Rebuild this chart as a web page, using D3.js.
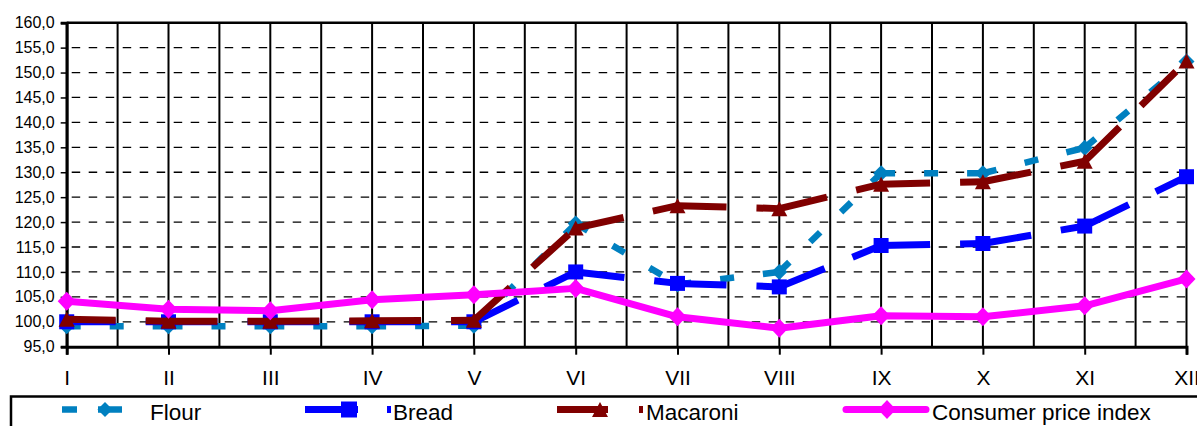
<!DOCTYPE html>
<html>
<head>
<meta charset="utf-8">
<script src="https://cdn.jsdelivr.net/npm/d3@7"></script>
<style>
  html, body { margin: 0; padding: 0; background: #fff; }
  svg { display: block; font-family: "Liberation Sans", Arial, sans-serif; }
</style>
</head>
<body>
<svg id="chart" width="1197" height="426"></svg>
<script>
const categories = ["I","II","III","IV","V","VI","VII","VIII","IX","X","XI","XII"];
const flour    = [99.1, 99.1, 99.1, 99.1, 99.2, 119.7, 107.5, 110.0, 129.8, 129.8, 134.9, 152.2];
const bread    = [100.0, 100.0, 100.0, 100.0, 100.0, 110.0, 107.7, 107.0, 115.3, 115.7, 119.2, 129.1];
const macaroni = [100.5, 100.1, 100.1, 100.2, 100.3, 118.8, 123.3, 122.7, 127.6, 128.1, 132.2, 152.3];
const cpi      = [104.1, 102.5, 102.2, 104.4, 105.4, 106.7, 101.0, 98.7, 101.2, 101.0, 103.2, 108.6];
const yTicks   = [95, 100, 105, 110, 115, 120, 125, 130, 135, 140, 145, 150, 155, 160];
const seriesNames = ["Flour", "Bread", "Macaroni", "Consumer price index"];

const svg = d3.select("#chart");
const X0 = 66.7, X1 = 1186.5, YT = 22.7, YB = 346.7;
const x = d3.scalePoint().domain(categories).range([X0, X1]);
const y = d3.scaleLinear().domain([95, 160]).range([YB, YT]);
const step = x.step();

// horizontal dashed gridlines
const g = svg.append("g");
g.selectAll("line.hg").data(yTicks.filter(v => v > 95 && v < 160)).join("line")
  .attr("x1", X0).attr("x2", X1)
  .attr("y1", d => y(d)).attr("y2", d => y(d))
  .attr("stroke", "#000").attr("stroke-width", 1.3)
  .attr("stroke-dasharray", "8.5,8.5").attr("stroke-dashoffset", -5);

// vertical gridlines at categories and midpoints
const vx = [];
categories.forEach((c, i) => {
  vx.push(x(c));
  if (i < categories.length - 1) vx.push(x(c) + step / 2);
});
g.selectAll("line.vg").data(vx).join("line")
  .attr("x1", d => d).attr("x2", d => d)
  .attr("y1", YT).attr("y2", YB)
  .attr("stroke", "#000").attr("stroke-width", 2);

// top border
g.append("line").attr("x1", X0).attr("x2", X1).attr("y1", YT).attr("y2", YT)
  .attr("stroke", "#000").attr("stroke-width", 2.5);

// y axis
const yAxis = d3.axisLeft(y).tickValues(yTicks).tickSize(6).tickPadding(6)
  .tickFormat(d => d3.format(".1f")(d).replace(".", ","));
const ya = svg.append("g").attr("transform", `translate(${X0},0)`).call(yAxis);
ya.select(".domain").attr("stroke", "#000").attr("stroke-width", 3);
ya.selectAll(".tick line").attr("stroke", "#000").attr("stroke-width", 1.5);
ya.selectAll(".tick text").attr("font-size", 16).attr("fill", "#000")
  .attr("font-family", "Liberation Sans, Arial, sans-serif");

// x axis
const xAxis = d3.axisBottom(x).tickSize(8).tickPadding(15);
const xa = svg.append("g").attr("transform", `translate(0,${YB})`).call(xAxis);
xa.select(".domain").attr("stroke", "#000").attr("stroke-width", 3);
xa.selectAll(".tick line").attr("stroke", "#000").attr("stroke-width", 2);
xa.selectAll(".tick text").attr("font-size", 21).attr("fill", "#000")
  .attr("font-family", "Liberation Sans, Arial, sans-serif");

const diamond = (w, h) => `M0,${-h}L${w},0L0,${h}L${-w},0Z`;
const square = s => `M${-s},${-s}H${s}V${s}H${-s}Z`;
const tri = (w, h) => `M0,${-h}L${w},${h}L${-w},${h}Z`;

// each segment drawn separately so its dash pattern restarts at every point
function drawSeries(vals, color, width, dash, markerPath, cap) {
  const gs = svg.append("g");
  if (dash) {
    const segs = d3.pairs(vals.map((v, i) => [x(categories[i]), y(v)]));
    gs.selectAll("path.seg").data(segs).join("path")
      .attr("d", d3.line())
      .attr("fill", "none").attr("stroke", color).attr("stroke-width", width)
      .attr("stroke-dasharray", dash).attr("stroke-linecap", "butt");
  } else {
    const line = d3.line().x((d, i) => x(categories[i])).y(d => y(d));
    gs.append("path").datum(vals).attr("d", line)
      .attr("fill", "none").attr("stroke", color).attr("stroke-width", width)
      .attr("stroke-linecap", cap || "butt").attr("stroke-linejoin", "round");
  }
  gs.selectAll("path.m").data(vals).join("path")
    .attr("transform", (d, i) => `translate(${x(categories[i])},${y(d)})`)
    .attr("d", markerPath).attr("fill", color);
}

drawSeries(flour, "#0080C0", 6.5, "14,29", diamond(8, 8));
drawSeries(bread, "#0000FF", 7, "49,30", square(7.5));
drawSeries(macaroni, "#800000", 7, "49,30", tri(8, 7.5));
drawSeries(cpi, "#FF00FF", 7, null, diamond(9, 9.5), "round");

// legend
const lg = svg.append("g");
lg.append("rect").attr("x", 11).attr("y", 396.5).attr("width", 1300).attr("height", 100)
  .attr("fill", "none").attr("stroke", "#000").attr("stroke-width", 2.5);
const ly = 409.5;
// Flour sample
lg.append("line").attr("x1", 62).attr("x2", 122).attr("y1", ly).attr("y2", ly)
  .attr("stroke", "#0080C0").attr("stroke-width", 6.5).attr("stroke-dasharray", "15,21,40");
lg.append("path").attr("transform", `translate(105,${ly})`).attr("d", diamond(7.5, 7.5)).attr("fill", "#0080C0");
// Bread sample
lg.append("line").attr("x1", 305).attr("x2", 358).attr("y1", ly).attr("y2", ly)
  .attr("stroke", "#0000FF").attr("stroke-width", 7);
lg.append("path").attr("transform", `translate(349,${ly})`).attr("d", square(8)).attr("fill", "#0000FF");
lg.append("rect").attr("x", 387).attr("y", ly - 3.5).attr("width", 4).attr("height", 7).attr("fill", "#0000FF");
// Macaroni sample
lg.append("line").attr("x1", 557).attr("x2", 608).attr("y1", ly).attr("y2", ly)
  .attr("stroke", "#800000").attr("stroke-width", 7);
lg.append("path").attr("transform", `translate(600,${ly})`).attr("d", tri(8, 7.5)).attr("fill", "#800000");
lg.append("rect").attr("x", 639).attr("y", ly - 3.5).attr("width", 4).attr("height", 7).attr("fill", "#800000");
// CPI sample
lg.append("line").attr("x1", 846).attr("x2", 926).attr("y1", ly).attr("y2", ly)
  .attr("stroke", "#FF00FF").attr("stroke-width", 7).attr("stroke-linecap", "round");
lg.append("path").attr("transform", `translate(887,${ly})`).attr("d", diamond(9, 9.5)).attr("fill", "#FF00FF");

const textX = [150, 393, 646, 932];
lg.selectAll("text").data(seriesNames).join("text")
  .attr("x", (d, i) => textX[i]).attr("y", 420)
  .attr("font-size", 22.5).attr("fill", "#000").text(d => d);
</script>
</body>
</html>
